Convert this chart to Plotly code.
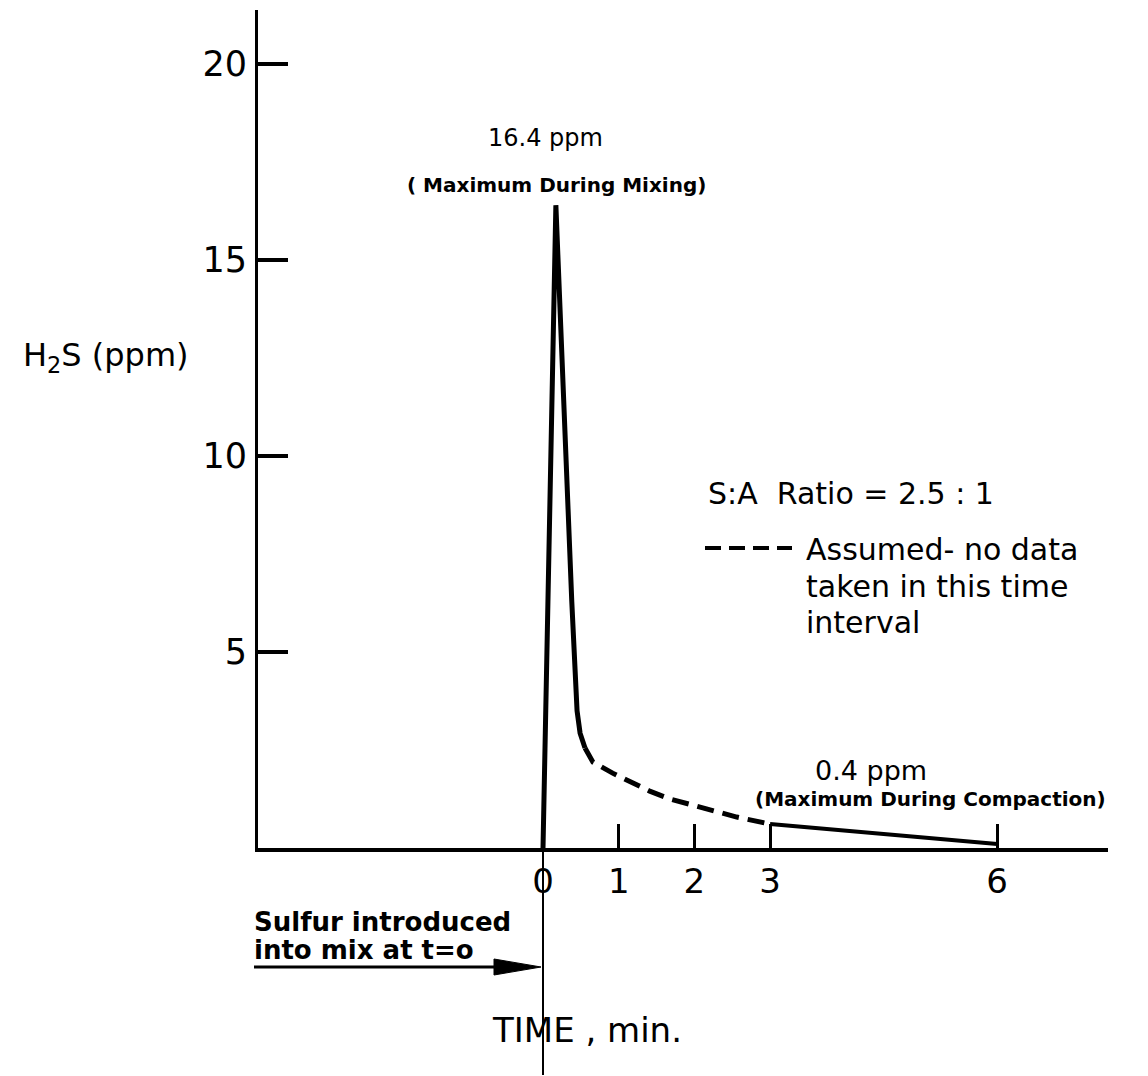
import plotly.graph_objects as go

# ---- data ----
mix_t = [0, 0.17, 0.38, 0.42, 0.45, 0.49, 0.555]
mix_ppm = [0, 16.4, 6.3, 4.6, 3.5, 2.93, 2.55]

assumed_t = [0.555, 0.66, 0.92, 1.19, 1.41, 1.68, 1.97, 2.25, 2.56, 3.0]
assumed_ppm = [2.55, 2.19, 1.91, 1.66, 1.45, 1.25, 1.10, 0.94, 0.79, 0.61]

compaction_t = [3, 3.92, 4.58, 5.24, 6]
compaction_ppm = [0.61, 0.46, 0.33, 0.23, 0.10]

x_tickvals = [0, 1, 2, 3, 6]
x_ticktext = ["0", "1", "2", "3", "6"]
y_tickvals = [5, 10, 15, 20]
y_ticktext = ["5", "10", "15", "20"]

# ---- layout geometry (screen pixels; page body has an 8px margin) ----
OFF = 8
W, H = 1148 - OFF, 1076 - OFF
PLOT_L, PLOT_R, PLOT_T, PLOT_B = 258, 1108, 10, 848   # plot area on screen
PW, PH = PLOT_R - PLOT_L, PLOT_B - PLOT_T
L, T = PLOT_L - OFF, PLOT_T - OFF
R = W - L - PW
B = H - T - PH


def px(x):
    return (x - PLOT_L) / PW


def py(y):
    return (PLOT_B - y) / PH


FONT = "DejaVu Sans"
BLACK = "#000000"

fig = go.Figure()
fig.add_trace(go.Scatter(x=mix_t, y=mix_ppm, mode="lines",
                         line=dict(color=BLACK, width=5), showlegend=False))
fig.add_trace(go.Scatter(x=assumed_t, y=assumed_ppm, mode="lines",
                         line=dict(color=BLACK, width=5, dash="17px,9px"),
                         showlegend=False))
fig.add_trace(go.Scatter(x=compaction_t, y=compaction_ppm, mode="lines",
                         line=dict(color=BLACK, width=4), showlegend=False))

fig.update_xaxes(range=[-3.765, 7.464], tickvals=x_tickvals, ticktext=x_ticktext,
                 ticks="inside", ticklen=24, tickwidth=3, tickcolor=BLACK,
                 showline=True, linewidth=4, linecolor=BLACK, showgrid=False,
                 zeroline=False, ticklabelstandoff=0,
                 tickfont=dict(family=FONT, size=34, color=BLACK))
fig.update_yaxes(range=[0, 21.38], tickvals=y_tickvals, ticktext=y_ticktext,
                 ticks="inside", ticklen=30, tickwidth=4, tickcolor=BLACK,
                 showline=True, linewidth=3, linecolor=BLACK, showgrid=False,
                 zeroline=False, ticklabelstandoff=1,
                 tickfont=dict(family=FONT, size=35, color=BLACK))

ann = []


def text(x, y, s, size, bold=False, xanchor="center", align="center"):
    if bold:
        s = "<b>" + s + "</b>"
    ann.append(dict(x=px(x), y=py(y), xref="paper", yref="paper", text=s,
                    showarrow=False, xanchor=xanchor, yanchor="middle", align=align,
                    font=dict(family=FONT, size=size, color=BLACK)))


text(545, 138, "16.4 ppm", 24)
text(556, 185, "( Maximum During Mixing)", 20, bold=True)
text(851, 493, "S:A  Ratio = 2.5 : 1", 30)
text(804, 549, "Assumed- no data", 30, xanchor="left", align="left")
text(804, 586, "taken in this time", 30, xanchor="left", align="left")
text(804, 622, "interval", 30, xanchor="left", align="left")
text(871, 770, "0.4 ppm", 27)
text(930, 799, "(Maximum During Compaction)", 20, bold=True)
text(252, 922, "Sulfur introduced", 26, bold=True, xanchor="left", align="left")
text(252, 950, "into mix at t=o", 26, bold=True, xanchor="left", align="left")
text(587, 1030, "TIME , min.", 34)
text(106, 357, "H<sub>2</sub>S (ppm)", 32)

fig.update_layout(annotations=ann)

# decorations: vertical t=0 line below axis, arrow, legend dash sample
shapes = [
    dict(type="line", xref="x", yref="paper", x0=0, x1=0, y0=py(848), y1=py(1075),
         line=dict(color=BLACK, width=2)),
    dict(type="line", xref="paper", yref="paper", x0=px(254), x1=px(500),
         y0=py(967), y1=py(967), line=dict(color=BLACK, width=3)),
    dict(type="path", xref="paper", yref="paper",
         path=f"M {px(494)},{py(959)} L {px(541)},{py(967)} L {px(494)},{py(975)} Z",
         fillcolor=BLACK, line=dict(color=BLACK, width=1)),
    dict(type="line", xref="paper", yref="paper", x0=px(705), x1=px(792),
         y0=py(548), y1=py(548), line=dict(color=BLACK, width=4, dash="16px,8px")),
]
fig.update_layout(shapes=shapes)

fig.update_layout(width=W, height=H, margin=dict(l=L, r=R, t=T, b=B),
                  paper_bgcolor="white", plot_bgcolor="white",
                  font=dict(family=FONT, color=BLACK))

fig.write_html("out.html")
